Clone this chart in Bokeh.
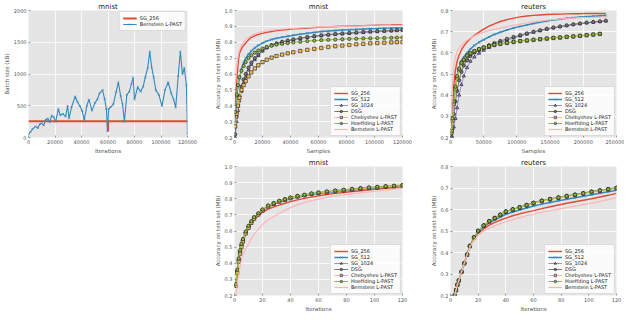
from bokeh.plotting import figure
from bokeh.layouts import row, column
from bokeh.models import (Range1d, FixedTicker, NumeralTickFormatter, Legend,
                          LegendItem, Spacer)
from bokeh.embed import file_html
from bokeh.resources import INLINE

FONT = "DejaVu Sans"

# ---------------- data ----------------
# panel 1: batch size vs iterations (mnist)
bs_iters = [0, 1500, 3000, 5300, 7000, 8500, 9900, 11500, 13000, 14500,
            16000, 17500, 19000, 20500, 22500, 24000, 26000, 28000, 29500, 30600,
            32500, 35200, 37000, 38700, 40500, 42100, 44000, 45600, 47900, 50200,
            52000, 53600, 55900, 57500, 58800, 59600, 60500, 62000, 64000, 66200,
            67800, 69600, 71000, 72400, 74200, 76000, 77700, 79000, 80000, 82400,
            84600, 86500, 88100, 90000, 91500, 93000, 94500, 96100, 98400, 100700,
            103000, 105400, 107700, 109500, 111100, 113000, 114600, 116200, 117600, 119200,
            120000]
bs_bernstein = [50, 90, 130, 174, 150, 210, 224, 190, 280, 300,
                240, 345, 320, 250, 448, 350, 373, 330, 497, 300,
                480, 646, 560, 497, 420, 273, 500, 597, 423, 547,
                600, 697, 746, 600, 448, 100, 448, 480, 522, 721,
                870, 647, 520, 249, 672, 720, 846, 945, 597, 796,
                722, 800, 945, 1100, 1353, 1100, 945, 746, 672, 497,
                746, 870, 697, 600, 472, 970, 1353, 995, 1095, 821,
                60]
bs_sg_iters = [0, 59800, 60000, 60200, 120000]
bs_sg256 = [256, 256, 96, 256, 256]

names = ["SG_256", "SG_512", "SG_1024", "DSG", "Chebyshev L-PAST",
         "Hoeffding L-PAST", "Bernstein L-PAST"]

# panel 2: mnist accuracy vs samples
mnist_samples = [500, 1500, 2500, 3500, 5000, 6500, 8000, 10000, 12000, 14500,
                 17000, 20000, 23000, 26500, 30000, 34000, 38000, 42000, 47000, 52000,
                 57000, 62000, 67000, 72000, 77000, 82000, 87000, 92000, 97000, 102000,
                 107000, 112000, 116000, 120000]
ms_sg256 = [0.40, 0.55, 0.66, 0.73, 0.76, 0.78, 0.795, 0.815, 0.83, 0.84,
            0.85, 0.856, 0.862, 0.868, 0.874, 0.877, 0.88, 0.884, 0.887, 0.889,
            0.892, 0.895, 0.897, 0.899, 0.901, 0.903, 0.904, 0.905, 0.906, 0.907,
            0.908, 0.909, 0.91, 0.911]
ms_sg512 = [0.28, 0.45, 0.52, 0.57, 0.63, 0.67, 0.70, 0.725, 0.745, 0.765,
            0.78, 0.795, 0.807, 0.817, 0.825, 0.832, 0.838, 0.844, 0.851, 0.857,
            0.862, 0.867, 0.871, 0.874, 0.877, 0.879, 0.881, 0.883, 0.885, 0.886,
            0.888, 0.889, 0.890, 0.891]
ms_sg1024 = [0.20, 0.30, 0.37, 0.43, 0.49, 0.54, 0.58, 0.625, 0.66, 0.69,
             0.715, 0.745, 0.765, 0.78, 0.79, 0.80, 0.808, 0.815, 0.823, 0.83,
             0.836, 0.84, 0.845, 0.849, 0.852, 0.855, 0.858, 0.861, 0.864, 0.866,
             0.869, 0.871, 0.873, 0.875]
ms_dsg = [0.22, 0.33, 0.40, 0.46, 0.52, 0.565, 0.60, 0.64, 0.672, 0.70,
          0.722, 0.748, 0.767, 0.782, 0.793, 0.803, 0.811, 0.818, 0.826, 0.833,
          0.839, 0.844, 0.849, 0.853, 0.856, 0.859, 0.862, 0.865, 0.868, 0.87,
          0.872, 0.874, 0.876, 0.878]
ms_cheb = [0.27, 0.35, 0.40, 0.45, 0.50, 0.53, 0.555, 0.585, 0.61, 0.635,
           0.655, 0.675, 0.69, 0.703, 0.713, 0.722, 0.73, 0.737, 0.745, 0.752,
           0.758, 0.764, 0.77, 0.775, 0.779, 0.783, 0.787, 0.79, 0.793, 0.795,
           0.797, 0.799, 0.80, 0.801]
ms_hoeff = [0.36, 0.47, 0.53, 0.58, 0.62, 0.65, 0.675, 0.70, 0.718, 0.735,
            0.748, 0.76, 0.77, 0.778, 0.785, 0.79, 0.795, 0.799, 0.803, 0.807,
            0.81, 0.813, 0.815, 0.817, 0.819, 0.821, 0.822, 0.824, 0.825, 0.826,
            0.827, 0.828, 0.829, 0.83]
ms_bern = [0.52, 0.64, 0.71, 0.75, 0.78, 0.80, 0.815, 0.83, 0.842, 0.852,
           0.86, 0.866, 0.871, 0.875, 0.879, 0.882, 0.885, 0.888, 0.891, 0.893,
           0.895, 0.897, 0.898, 0.899, 0.9, 0.901, 0.902, 0.903, 0.904, 0.904,
           0.905, 0.905, 0.906, 0.906]

# panel 3: reuters accuracy vs samples
reuters_samples = [1500, 3000, 5000, 7500, 10000, 13000, 16500, 20000, 25000, 30000,
                   36000, 43000, 50000, 58000, 66000, 75000, 85000, 95000, 105000, 115000,
                   125000, 135000, 145000, 155000, 165000, 175000, 185000, 195000, 205000, 215000,
                   225000, 234000]
rs_sg256 = [0.25, 0.32, 0.45, 0.52, 0.56, 0.59, 0.615, 0.632, 0.652, 0.668,
            0.683, 0.698, 0.712, 0.726, 0.737, 0.748, 0.757, 0.764, 0.77, 0.774,
            0.777, 0.779, 0.781, 0.782, 0.783, 0.784, 0.785, 0.785, 0.786, 0.786,
            0.786, 0.786]
rs_sg512 = [0.21, 0.28, 0.36, 0.44, 0.49, 0.53, 0.56, 0.58, 0.60, 0.618,
            0.635, 0.65, 0.662, 0.675, 0.687, 0.697, 0.708, 0.717, 0.725, 0.732,
            0.739, 0.745, 0.75, 0.755, 0.759, 0.763, 0.766, 0.769, 0.771, 0.773,
            0.775, 0.776]
rs_sg1024 = [0.18, 0.2, 0.25, 0.29, 0.34, 0.40, 0.45, 0.49, 0.53, 0.56,
             0.58, 0.598, 0.612, 0.625, 0.637, 0.648, 0.66, 0.67, 0.679, 0.688,
             0.697, 0.704, 0.711, 0.717, 0.723, 0.728, 0.733, 0.737, 0.741, 0.744,
             0.747, 0.75]
rs_dsg = [0.2, 0.24, 0.31, 0.37, 0.42, 0.47, 0.51, 0.54, 0.565, 0.585,
          0.601, 0.614, 0.625, 0.636, 0.646, 0.656, 0.666, 0.675, 0.684, 0.692,
          0.7, 0.707, 0.714, 0.72, 0.725, 0.73, 0.735, 0.739, 0.743, 0.746,
          0.749, 0.752]
rs_cheb = [0.23, 0.28, 0.36, 0.43, 0.48, 0.52, 0.55, 0.565, 0.585, 0.597,
           0.607, 0.616, 0.624, 0.631, 0.637, 0.642, 0.647, 0.651, 0.655, 0.658,
           0.661, 0.664, 0.667, 0.67, 0.672, 0.675, 0.677, 0.68, 0.683, 0.686,
           0.689]
rs_hoeff = [0.22, 0.29, 0.37, 0.44, 0.49, 0.525, 0.553, 0.568, 0.587, 0.599,
            0.609, 0.618, 0.625, 0.632, 0.638, 0.643, 0.648, 0.652, 0.656, 0.659,
            0.662, 0.665, 0.668, 0.671, 0.673, 0.676, 0.678, 0.681, 0.684, 0.687,
            0.69]
rs_bern = [0.3, 0.45, 0.53, 0.58, 0.605, 0.622, 0.637, 0.648, 0.66, 0.67,
           0.68, 0.69, 0.698, 0.705, 0.711, 0.717, 0.724, 0.73, 0.736, 0.741,
           0.746, 0.75, 0.754, 0.757, 0.76, 0.762, 0.764, 0.766, 0.767, 0.768,
           0.769, 0.77]

# panel 4: mnist accuracy vs iterations
mnist_iters = [1, 2, 3, 4, 5, 6, 8, 10, 12, 14, 17, 20, 24, 28, 32, 36, 40, 45, 50, 55,
               60, 66, 72, 78, 84, 90, 96, 102, 108, 114, 120]
mi_sg256 = [0.25, 0.34, 0.41, 0.46, 0.50, 0.53, 0.58, 0.615, 0.645, 0.67,
            0.695, 0.715, 0.735, 0.75, 0.76, 0.772, 0.782, 0.793, 0.802, 0.81,
            0.818, 0.826, 0.833, 0.839, 0.845, 0.85, 0.855, 0.86, 0.865, 0.87, 0.875]
mi_sg512 = [0.26, 0.35, 0.42, 0.47, 0.51, 0.54, 0.59, 0.623, 0.652, 0.677,
            0.702, 0.727, 0.75, 0.766, 0.779, 0.79, 0.8, 0.81, 0.818, 0.826,
            0.832, 0.839, 0.845, 0.85, 0.855, 0.86, 0.864, 0.868, 0.872, 0.876, 0.88]
mi_sg1024 = [0.27, 0.36, 0.43, 0.48, 0.52, 0.55, 0.595, 0.63, 0.66, 0.684,
             0.709, 0.733, 0.757, 0.772, 0.787, 0.797, 0.807, 0.817, 0.824, 0.832,
             0.838, 0.844, 0.85, 0.855, 0.86, 0.865, 0.869, 0.873, 0.877, 0.88, 0.884]
mi_dsg = [0.26, 0.35, 0.42, 0.47, 0.51, 0.54, 0.59, 0.625, 0.655, 0.68,
          0.705, 0.73, 0.755, 0.77, 0.785, 0.795, 0.805, 0.815, 0.822, 0.83,
          0.836, 0.842, 0.848, 0.853, 0.858, 0.863, 0.867, 0.871, 0.875, 0.878, 0.882]
mi_cheb = [0.26, 0.34, 0.41, 0.46, 0.50, 0.535, 0.585, 0.62, 0.65, 0.676,
           0.702, 0.727, 0.752, 0.768, 0.782, 0.793, 0.803, 0.813, 0.821, 0.829,
           0.835, 0.841, 0.847, 0.852, 0.857, 0.862, 0.866, 0.87, 0.874, 0.877, 0.881]
mi_hoeff = [0.27, 0.36, 0.43, 0.48, 0.52, 0.55, 0.597, 0.632, 0.661, 0.686,
            0.71, 0.734, 0.758, 0.773, 0.788, 0.798, 0.808, 0.818, 0.825, 0.833,
            0.839, 0.845, 0.851, 0.856, 0.861, 0.866, 0.87, 0.874, 0.878, 0.881, 0.885]
mi_bern = [0.2, 0.27, 0.33, 0.38, 0.42, 0.45, 0.49, 0.52, 0.55, 0.58,
           0.61, 0.64, 0.67, 0.69, 0.71, 0.728, 0.745, 0.762, 0.776, 0.788,
           0.798, 0.808, 0.817, 0.824, 0.83, 0.836, 0.842, 0.848, 0.853, 0.859, 0.865]

# panel 5: reuters accuracy vs iterations
reuters_iters = [3, 4, 5, 6, 8, 10, 12, 14, 17, 20, 24, 28, 32, 36, 40, 45, 50, 55, 60,
                 66, 72, 78, 84, 90, 96, 102, 108, 114, 120]
ri_sg256 = [0.2, 0.225, 0.25, 0.27, 0.31, 0.35, 0.39, 0.43, 0.465, 0.49,
            0.51, 0.527, 0.54, 0.551, 0.56, 0.571, 0.58, 0.588, 0.595, 0.604,
            0.613, 0.621, 0.629, 0.636, 0.643, 0.65, 0.658, 0.666, 0.675]
ri_sg512 = [0.2, 0.225, 0.25, 0.27, 0.31, 0.35, 0.39, 0.43, 0.468, 0.497,
            0.52, 0.538, 0.552, 0.565, 0.578, 0.588, 0.598, 0.607, 0.616, 0.625,
            0.633, 0.641, 0.648, 0.655, 0.662, 0.669, 0.676, 0.683, 0.69]
ri_sg1024 = [0.2, 0.226, 0.251, 0.272, 0.312, 0.352, 0.392, 0.432, 0.472, 0.502,
             0.527, 0.547, 0.562, 0.577, 0.592, 0.602, 0.612, 0.622, 0.632, 0.642,
             0.65, 0.657, 0.664, 0.67, 0.677, 0.684, 0.69, 0.696, 0.702]
ri_dsg = [0.2, 0.225, 0.25, 0.27, 0.31, 0.35, 0.39, 0.43, 0.47, 0.5,
          0.525, 0.545, 0.56, 0.575, 0.59, 0.6, 0.61, 0.62, 0.63, 0.64,
          0.648, 0.655, 0.662, 0.668, 0.675, 0.682, 0.688, 0.694, 0.7]
ri_cheb = [0.2, 0.224, 0.249, 0.269, 0.309, 0.349, 0.389, 0.429, 0.469, 0.499,
           0.524, 0.544, 0.559, 0.574, 0.589, 0.599, 0.609, 0.619, 0.629, 0.639,
           0.647, 0.654, 0.661, 0.667, 0.674, 0.681, 0.687, 0.693, 0.699]
ri_hoeff = [0.2, 0.226, 0.251, 0.271, 0.311, 0.351, 0.391, 0.431, 0.471, 0.501,
            0.526, 0.546, 0.561, 0.576, 0.591, 0.601, 0.611, 0.621, 0.631, 0.641,
            0.649, 0.656, 0.663, 0.669, 0.676, 0.683, 0.689, 0.695, 0.701]
ri_bern = [0.2, 0.225, 0.25, 0.27, 0.31, 0.35, 0.39, 0.425, 0.455, 0.48,
           0.5, 0.513, 0.524, 0.534, 0.543, 0.553, 0.562, 0.571, 0.578, 0.587,
           0.595, 0.602, 0.609, 0.616, 0.623, 0.63, 0.638, 0.646, 0.655]

acc_ticks_mnist = [0.2, 0.3, 0.4, 0.5, 0.6, 0.7, 0.8, 0.9, 1.0]
acc_ticks_reuters = [0.2, 0.3, 0.4, 0.5, 0.6, 0.7, 0.8]
samples_ticks_mnist = [0, 20000, 40000, 60000, 80000, 100000, 120000]
samples_ticks_reuters = [0, 50000, 100000, 150000, 200000, 250000]
iter_ticks = [0, 20, 40, 60, 80, 100, 120]
bs_ticks = [0, 500, 1000, 1500, 2000]

# ---------------- styles ----------------
STYLE = {
    "SG_256": dict(color="#E24A33", marker=None, lw=1.4),
    "SG_512": dict(color="#348ABD", marker="x", lw=1.5),
    "SG_1024": dict(color="#988ED5", marker="triangle", lw=1.0),
    "DSG": dict(color="#777777", marker="circle", lw=1.0),
    "Chebyshev L-PAST": dict(color="#FBC15E", marker="square", lw=1.0),
    "Hoeffding L-PAST": dict(color="#8EBA42", marker="circle", lw=1.0),
    "Bernstein L-PAST": dict(color="#FFB5B8", marker=None, lw=1.2),
}


def make_fig(w, h, title, xr, yr, xticks, yticks, yfmt, xlabel, ylabel, bl, br):
    p = figure(width=w, height=h, output_backend="svg", toolbar_location=None,
               x_range=Range1d(*xr), y_range=Range1d(*yr), title=title,
               min_border_left=bl, min_border_right=br, min_border_top=6,
               min_border_bottom=12)
    p.background_fill_color = "#E5E5E5"
    p.border_fill_color = "white"
    p.outline_line_color = None
    p.title.text_font = FONT
    p.title.text_font_size = "7px"
    p.title.text_font_style = "normal"
    p.title.text_color = "#222222"
    p.title.align = "center"
    p.title.standoff = 0
    p.xaxis.ticker = FixedTicker(ticks=xticks)
    p.yaxis.ticker = FixedTicker(ticks=yticks)
    p.xaxis.formatter = NumeralTickFormatter(format="0")
    p.yaxis.formatter = NumeralTickFormatter(format=yfmt)
    p.xaxis.axis_label = xlabel
    p.yaxis.axis_label = ylabel
    for ax in p.xaxis + p.yaxis:
        ax.axis_line_color = None
        ax.major_tick_line_color = "#555555"
        ax.major_tick_line_width = 0.6
        ax.major_tick_out = 0
        ax.major_tick_in = 2
        ax.minor_tick_line_color = None
        ax.major_label_text_font = FONT
        ax.major_label_text_font_size = "5px"
        ax.major_label_text_color = "#555555"
        ax.major_label_standoff = 2
        ax.axis_label_text_font = FONT
        ax.axis_label_text_font_size = "5.5px"
        ax.axis_label_text_font_style = "normal"
        ax.axis_label_text_color = "#555555"
        ax.axis_label_standoff = 1
    p.grid.grid_line_color = "white"
    p.grid.grid_line_width = 0.8
    return p


def add_legend(p, items, location):
    leg = Legend(items=items, location=location, margin=1, padding=3, spacing=0,
                 glyph_width=14, glyph_height=6, label_height=6, label_standoff=3,
                 label_text_font=FONT, label_text_font_size="5px",
                 label_text_color="#222222",
                 background_fill_color="white", background_fill_alpha=0.85,
                 border_line_color="#BBBBBB", border_line_width=0.6)
    p.add_layout(leg)


def draw_series(p, x, series, msize=3.3):
    items = []
    for name, ys in zip(names, series):
        st = STYLE[name]
        xs = x[:len(ys)]
        rs = [p.line(xs, ys, line_color=st["color"], line_width=st["lw"])]
        if st["marker"] == "x":
            rs.append(p.scatter(xs, ys, marker="x", size=3, line_color=st["color"],
                                line_width=0.8))
        elif st["marker"]:
            rs.append(p.scatter(xs, ys, marker=st["marker"], size=msize,
                                fill_color=st["color"], line_color="#151515",
                                line_width=0.6))
        items.append(LegendItem(label=name, renderers=rs))
    return items


ACC = "Accuracy on test set (MB)"
TOP_H = 156
BOT_H = 158

# panel 1
f1 = make_fig(211, TOP_H, "mnist", (0, 120000), (0, 2000), samples_ticks_mnist, bs_ticks,
              "0", "Iterations", "Batch size (kB)", 15, 24)
r1 = f1.line(bs_sg_iters, bs_sg256, line_color="#E24A33", line_width=2.0)
r2 = f1.line(bs_iters, bs_bernstein, line_color="#348ABD", line_width=1.1)
r3 = f1.scatter(bs_iters, bs_bernstein, marker="x", size=2.5, line_color="#348ABD",
                line_width=0.7)
add_legend(f1, [LegendItem(label="SG_256", renderers=[r1]),
                LegendItem(label="Bernstein L-PAST", renderers=[r2, r3])], "top_right")

# panel 2
f2 = make_fig(216, TOP_H, "mnist", (0, 120000), (0.2, 1.0), samples_ticks_mnist,
              acc_ticks_mnist, "0.0", "Samples", ACC, 22, 25)
it2 = draw_series(f2, mnist_samples, [ms_sg256, ms_sg512, ms_sg1024, ms_dsg, ms_cheb,
                                      ms_hoeff, ms_bern])
add_legend(f2, it2, "bottom_right")

# panel 3
f3 = make_fig(197, TOP_H, "reuters", (0, 250000), (0.2, 0.8), samples_ticks_reuters,
              acc_ticks_reuters, "0.0", "Samples", ACC, 22, 8)
it3 = draw_series(f3, reuters_samples, [rs_sg256, rs_sg512, rs_sg1024, rs_dsg, rs_cheb,
                                        rs_hoeff, rs_bern])
add_legend(f3, it3, "bottom_right")

# panel 4
f4 = make_fig(216, BOT_H, "mnist", (0, 120), (0.2, 1.0), iter_ticks, acc_ticks_mnist,
              "0.0", "Iterations", ACC, 18, 25)
it4 = draw_series(f4, mnist_iters, [mi_sg256, mi_sg512, mi_sg1024, mi_dsg, mi_cheb,
                                    mi_hoeff, mi_bern])
add_legend(f4, it4, "bottom_right")

# panel 5
f5 = make_fig(197, BOT_H, "reuters", (0, 120), (0.2, 0.8), iter_ticks, acc_ticks_reuters,
              "0.0", "Iterations", ACC, 18, 8)
it5 = draw_series(f5, reuters_iters, [ri_sg256, ri_sg512, ri_sg1024, ri_dsg, ri_cheb,
                                      ri_hoeff, ri_bern])
add_legend(f5, it5, "bottom_right")

layout = column(row(f1, f2, f3), row(Spacer(width=211, height=BOT_H), f4, f5))

open("out.html", "w").write(file_html(layout, INLINE))
